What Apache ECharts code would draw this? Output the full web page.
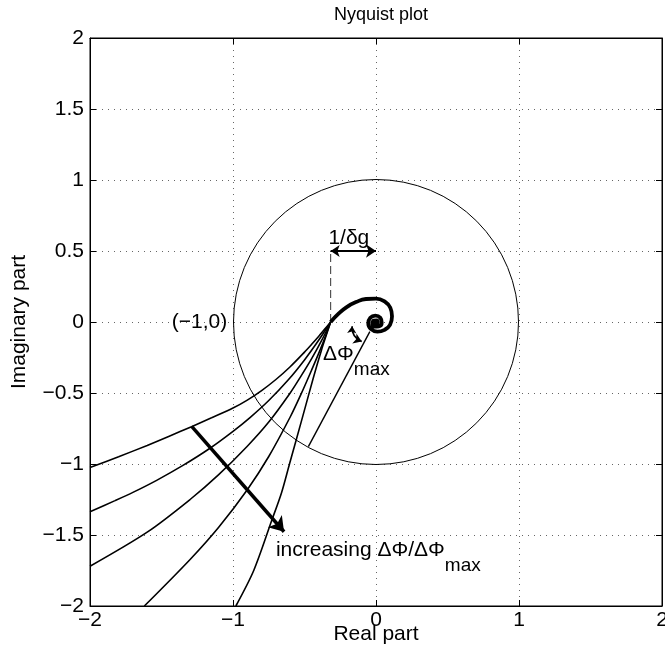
<!DOCTYPE html>
<html>
<head>
<meta charset="utf-8">
<script src="https://cdn.jsdelivr.net/npm/echarts@6/dist/echarts.min.js"></script>
<style>
html,body{margin:0;padding:0;background:#fff;}
#chart{width:665px;height:656px;}
</style>
</head>
<body>
<div id="chart"></div>
<script>
// ---- data ----
const xTicks = [-2, -1, 0, 1, 2];
const yTicks = [-2, -1.5, -1, -0.5, 0, 0.5, 1, 1.5, 2];
const unitCircle = [[0, 0, 1]]; // centre x, centre y, radius
const spiral = [[-0.317,0],[-0.26,0.06],[-0.205,0.105],[-0.14,0.14],[-0.07,0.162],[0.0,0.165],[0.06,0.145],[0.10,0.10],[0.112,0.04],[0.098,-0.02],[0.06,-0.055],[0.01,-0.068],[-0.035,-0.05],[-0.054,-0.01],[-0.04,0.03],[-0.005,0.045],[0.03,0.03],[0.04,-0.005],[0.02,-0.03],[-0.01,-0.032],[-0.025,-0.012],[-0.015,0.01],[0.005,0.012],[0.012,-0.005],[0,-0.012],[-0.008,-0.002]];
const curve1 = [[-0.317,0],[-0.36,-0.052],[-0.40,-0.10],[-0.45,-0.157],[-0.5,-0.212],[-0.6,-0.315],[-0.7,-0.405],[-0.8,-0.483],[-0.9,-0.55],[-1.0,-0.606],[-1.15,-0.675],[-1.29,-0.737],[-1.45,-0.806],[-1.6,-0.869],[-1.8,-0.949],[-2,-1.025]];
const curve2 = [[-0.317,0],[-0.4,-0.127],[-0.5,-0.267],[-0.613,-0.407],[-0.75,-0.553],[-0.881,-0.673],[-1.0,-0.77],[-1.161,-0.889],[-1.35,-1.01],[-1.534,-1.115],[-1.7,-1.2],[-1.825,-1.258],[-2,-1.336]];
const curve3 = [[-0.317,0],[-0.38,-0.13],[-0.45,-0.258],[-0.53,-0.39],[-0.6,-0.5],[-0.75,-0.705],[-0.9,-0.875],[-1.1,-1.075],[-1.3,-1.25],[-1.6,-1.48],[-2,-1.72]];
const curve4 = [[-0.317,0],[-0.38,-0.17],[-0.45,-0.338],[-0.525,-0.51],[-0.6,-0.669],[-0.75,-0.947],[-0.9,-1.181],[-1.1,-1.445],[-1.3,-1.672],[-1.62,-2]];
const curve5 = [[-0.317,0],[-0.35,-0.1],[-0.382,-0.2],[-0.44,-0.4],[-0.522,-0.7],[-0.605,-1.0],[-0.66,-1.2],[-0.73,-1.4],[-0.855,-1.75],[-0.98,-2]];
const radialLine = [[-0.043,-0.068],[-0.473,-0.878]];
const dashedLine = [[-0.317,0],[-0.317,0.5]];
const gainArrow = [[-0.317,0.5],[0,0.5]];
const bigArrow = [[-1.289,-0.735],[-0.643,-1.477]];
const angleArrow = [[-0.167,-0.03],[-0.10,-0.138]];
const textLabels = [
  {name:'(−1,0)', value:[-1.04,0], align:'right'},
  {name:'1/δg', value:[-0.19,0.59], align:'center'},
  {name:'{m|ΔΦ}{s|max}', value:[-0.37,-0.28], align:'left'},
  {name:'{m|increasing ΔΦ/ΔΦ}{s|max}', value:[-0.70,-1.66], align:'left'}
];

const FONT = 'Liberation Sans, Arial, Helvetica, sans-serif';
const chart = echarts.init(document.getElementById('chart'), null, {renderer:'canvas'});
const fmt = v => (v < 0 ? '−' + String(-v) : String(v));

function lineSeries(data, width, extra) {
  return Object.assign({
    type:'line', data:data, showSymbol:false, symbol:'none', smooth:0.3,
    lineStyle:{color:'#000', width:width}, silent:true, animation:false, z:3
  }, extra || {});
}
function arrowSeries(coords, width, symbols, size, curveness) {
  return {
    type:'lines', coordinateSystem:'cartesian2d', animation:false, silent:true, z:5,
    symbol:symbols, symbolSize:size,
    lineStyle:{color:'#000', width:width, opacity:1, curveness:curveness||0},
    data:[{coords:coords}]
  };
}
const baseAxis = {
  type:'value', axisLine:{onZero:false, lineStyle:{color:'#000', width:1}},
  axisTick:{inside:true, length:6, lineStyle:{color:'#000'}}
};

chart.setOption({
  animation:false,
  backgroundColor:'#fff',
  title:{text:'Nyquist plot', left:376, top:1, textAlign:'center',
    textStyle:{fontFamily:FONT, fontSize:18, fontWeight:'normal', color:'#000'}},
  grid:{left:90, right:3, top:38, bottom:50, containLabel:false, outerBoundsMode:'none',
    show:true, borderColor:'#000', borderWidth:1},
  xAxis:[
    Object.assign({}, baseAxis, {min:-2, max:2, interval:1, position:'bottom',
      name:'Real part', nameLocation:'middle', nameGap:18, nameMoveOverlap:false,
      nameTextStyle:{fontFamily:FONT, fontSize:21, color:'#000'},
      axisLabel:{formatter:fmt, fontFamily:FONT, fontSize:21, color:'#000', margin:4},
      splitLine:{show:true, lineStyle:{color:'#000', type:[1,5], width:1, opacity:0.6}}}),
    Object.assign({}, baseAxis, {min:-2, max:2, interval:1, position:'top',
      axisLabel:{show:false}, splitLine:{show:false}})
  ],
  yAxis:[
    Object.assign({}, baseAxis, {min:-2, max:2, interval:0.5, position:'left',
      name:'Imaginary part', nameLocation:'middle', nameGap:60, nameMoveOverlap:false,
      nameTextStyle:{fontFamily:FONT, fontSize:21, color:'#000'},
      axisLabel:{formatter:fmt, fontFamily:FONT, fontSize:21, color:'#000', margin:6},
      splitLine:{show:true, lineStyle:{color:'#000', type:[1,5], width:1, opacity:0.6}}}),
    Object.assign({}, baseAxis, {min:-2, max:2, interval:0.5, position:'right',
      axisLabel:{show:false}, splitLine:{show:false}})
  ],
  series:[
    {
      type:'custom', coordinateSystem:'cartesian2d', data:unitCircle, silent:true, animation:false, z:2,
      renderItem:function(params, api){
        const c = api.coord([api.value(0), api.value(1)]);
        const s = api.size([api.value(2), api.value(2)]);
        return {type:'circle', shape:{cx:c[0], cy:c[1], r:(s[0]+s[1])/2},
          style:{fill:'none', stroke:'#000', lineWidth:1}};
      }
    },
    lineSeries(curve1, 1.6),
    lineSeries(curve2, 1.6),
    lineSeries(curve3, 1.6),
    lineSeries(curve4, 1.6),
    lineSeries(curve5, 1.6),
    lineSeries(spiral, 3.8, {smooth:0.5, z:4}),
    lineSeries(radialLine, 1.4, {smooth:false}),
    lineSeries(dashedLine, 1, {smooth:false, lineStyle:{color:'#333', width:1, type:[8,4]}}),
    arrowSeries(gainArrow, 2, ['arrow','arrow'], [9,10]),
    arrowSeries(bigArrow, 3.5, ['none','arrow'], [13,14]),
    arrowSeries(angleArrow, 1.6, ['arrow','arrow'], [7,8], -0.35),
    {
      type:'scatter', data:textLabels.map(t => ({name:t.name, value:t.value,
        label:{show:true, position:'inside', align:t.align, verticalAlign:'middle', formatter:'{b}'}})),
      symbolSize:1, silent:true, animation:false, z:6,
      itemStyle:{color:'rgba(0,0,0,0)', opacity:1},
      label:{fontFamily:FONT, fontSize:21, color:'#000', opacity:1,
        rich:{
          m:{fontFamily:FONT, fontSize:21, color:'#000', lineHeight:36, verticalAlign:'top'},
          s:{fontFamily:FONT, fontSize:19, color:'#000', lineHeight:36, verticalAlign:'bottom'}
        }}
    }
  ]
});
</script>
</body>
</html>
